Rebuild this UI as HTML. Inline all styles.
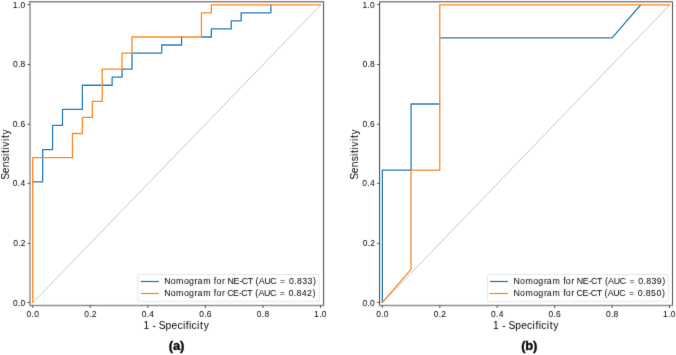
<!DOCTYPE html><html><head><meta charset="utf-8"><style>html,body{margin:0;padding:0;background:#fff;width:676px;height:355px;overflow:hidden}svg{display:block}</style></head><body>
<svg width="676" height="355" viewBox="0 0 676 355" font-family="'Liberation Sans', sans-serif">
<defs><filter id="bl" x="0" y="0" width="676" height="355" filterUnits="userSpaceOnUse" color-interpolation-filters="sRGB"><feConvolveMatrix order="3" kernelMatrix="0.015 0.07 0.015 0.07 0.66 0.07 0.015 0.07 0.015" divisor="1" edgeMode="none" preserveAlpha="false"/></filter><filter id="bl2" x="0" y="0" width="676" height="355" filterUnits="userSpaceOnUse" color-interpolation-filters="sRGB"><feConvolveMatrix order="3" kernelMatrix="0 0.03 0 0.03 0.88 0.03 0 0.03 0" divisor="1" edgeMode="none" preserveAlpha="false"/></filter></defs>
<rect width="676" height="355" fill="#fff"/>
<g filter="url(#bl2)">
<line x1="32.75" y1="302.85" x2="320.5" y2="5.2" stroke="#c4c4c4" stroke-width="0.9"/>
<path d="M32.75 181.78 L42.67 181.78 L42.67 149.6 L52.59 149.6 L52.59 125.47 L62.52 125.47 L62.52 109.38 L82.36 109.38 L82.36 85.25 L112.13 85.25 L112.13 77.2 L122.05 77.2 L122.05 69.16 L131.97 69.16 L131.97 53.07 L161.74 53.07 L161.74 45.02 L181.59 45.02 L181.59 36.98" fill="none" stroke="#2a7fbc" stroke-width="1.3" stroke-linejoin="round" stroke-linecap="square"/>
<path d="M201.43 36.98 L211.35 36.98 L211.35 28.93 L231.2 28.93 L231.2 20.89 L241.12 20.89 L241.12 12.84 L270.89 12.84 L270.89 4.8" fill="none" stroke="#2a7fbc" stroke-width="1.3" stroke-linejoin="round" stroke-linecap="square"/>
<path d="M32.75 302.45 L32.75 157.65 L72.44 157.65 L72.44 133.51 L82.36 133.51 L82.36 117.42 L92.28 117.42 L92.28 101.34 L102.21 101.34 L102.21 69.16 L122.05 69.16 L122.05 53.07 L131.97 53.07 L131.97 36.98 L201.43 36.98 L201.43 12.84 L211.35 12.84 L211.35 4.8 L320.5 4.8" fill="none" stroke="#ff8a24" stroke-width="1.3" stroke-linejoin="round" stroke-linecap="square"/>
<line x1="382.35" y1="302.85" x2="669.5" y2="5.2" stroke="#c4c4c4" stroke-width="0.9"/>
<path d="M382.35 302.45 L382.35 170.16 L411.06 170.16 L411.06 104.02 L439.78 104.02" fill="none" stroke="#2a7fbc" stroke-width="1.3" stroke-linejoin="round" stroke-linecap="square"/>
<path d="M439.78 37.87 L612.07 37.87 L640.79 4.8" fill="none" stroke="#2a7fbc" stroke-width="1.3" stroke-linejoin="round" stroke-linecap="butt"/>
<path d="M382.35 302.45 L411.06 269.38 L411.06 170.16 L439.78 170.16 L439.78 4.8 L669.5 4.8" fill="none" stroke="#ff8a24" stroke-width="1.3" stroke-linejoin="round" stroke-linecap="square"/>
<line x1="140.8" y1="281.5" x2="158.8" y2="281.5" stroke="#2a7fbc" stroke-width="1.3"/>
<line x1="140.8" y1="293.5" x2="158.8" y2="293.5" stroke="#ff8a24" stroke-width="1.3"/>
<line x1="489.9" y1="281.5" x2="508" y2="281.5" stroke="#2a7fbc" stroke-width="1.3"/>
<line x1="489.9" y1="293.5" x2="508" y2="293.5" stroke="#ff8a24" stroke-width="1.3"/>
</g>
<g filter="url(#bl)">
<rect x="137.7" y="274.5" width="181.6" height="26.8" rx="1" fill="none" stroke="#d6d6d6" stroke-width="0.6"/>
<text x="164.31 170.71 176.11 183.92 189.06 194.61 197.42 203.14 210.95 213.85 216.53 221.93 225.05 227.53 233.49 239.13 241.78 247.77 253.1 255.59 258.81 264.46 270.37 276.61 280.08 286.24 288.98 294.19 296.93 302.24 307.54 313.02" y="284.15" font-size="8.83" fill="#000">Nomogram for NE-CT (AUC = 0.833)</text>
<text x="164.31 170.71 176.11 183.92 189.06 194.61 197.42 203.14 210.95 213.85 216.53 221.93 225.05 227.27 233.08 238.71 241.36 247.35 252.69 255.17 258.39 264.05 269.96 276.2 279.66 285.83 288.57 293.77 296.52 301.82 307.01 312.6" y="296.2" font-size="8.83" fill="#000">Nomogram for CE-CT (AUC = 0.842)</text>
<line x1="30" y1="1" x2="30" y2="306.25" stroke="#858585" stroke-width="1.32"/>
<line x1="323.55" y1="1" x2="323.55" y2="306.25" stroke="#575757" stroke-width="1.1"/>
<line x1="29.34" y1="1.71" x2="324.1" y2="1.71" stroke="#828282" stroke-width="1.42"/>
<line x1="29.34" y1="305.5" x2="324.1" y2="305.5" stroke="#8e8e8e" stroke-width="1.5"/>
<line x1="32.75" y1="305.45" x2="32.75" y2="308.05" stroke="#000" stroke-width="0.64"/>
<line x1="30" y1="302.5" x2="27.4" y2="302.5" stroke="#000" stroke-width="0.64"/>
<text x="26.58 31.57 34.21" y="316.7" font-size="8.48" fill="#000">0.0</text>
<text x="12.89 17.89 20.53" y="305.55" font-size="8.48" fill="#000">0.0</text>
<line x1="90.3" y1="305.45" x2="90.3" y2="308.05" stroke="#000" stroke-width="0.64"/>
<line x1="30" y1="243.4" x2="27.4" y2="243.4" stroke="#000" stroke-width="0.64"/>
<text x="84.26 89.26 91.79" y="316.7" font-size="8.48" fill="#000">0.2</text>
<text x="13.16 18.16 20.69" y="246.02" font-size="8.48" fill="#000">0.2</text>
<line x1="147.85" y1="305.45" x2="147.85" y2="308.05" stroke="#000" stroke-width="0.64"/>
<line x1="30" y1="183.4" x2="27.4" y2="183.4" stroke="#000" stroke-width="0.64"/>
<text x="141.64 146.63 149.27" y="316.7" font-size="8.48" fill="#000">0.4</text>
<text x="12.81 17.81 20.44" y="186.49" font-size="8.48" fill="#000">0.4</text>
<line x1="205.4" y1="305.45" x2="205.4" y2="308.05" stroke="#000" stroke-width="0.64"/>
<line x1="30" y1="124.3" x2="27.4" y2="124.3" stroke="#000" stroke-width="0.64"/>
<text x="199.21 204.21 206.85" y="316.7" font-size="8.48" fill="#000">0.6</text>
<text x="12.87 17.86 20.5" y="126.96" font-size="8.48" fill="#000">0.6</text>
<line x1="262.95" y1="305.45" x2="262.95" y2="308.05" stroke="#000" stroke-width="0.64"/>
<line x1="30" y1="64.5" x2="27.4" y2="64.5" stroke="#000" stroke-width="0.64"/>
<text x="256.78 261.78 264.42" y="316.7" font-size="8.48" fill="#000">0.8</text>
<text x="12.91 17.9 20.54" y="67.43" font-size="8.48" fill="#000">0.8</text>
<line x1="320.5" y1="305.45" x2="320.5" y2="308.05" stroke="#000" stroke-width="0.64"/>
<line x1="30" y1="4.6" x2="27.4" y2="4.6" stroke="#000" stroke-width="0.64"/>
<text x="314.11 319.14 321.78" y="316.7" font-size="8.48" fill="#000">1.0</text>
<text x="12.85 17.89 20.53" y="7.9" font-size="8.48" fill="#000">1.0</text>
<text x="143.47 149.58 152.59 156.17 158.84 165.57 171.59 177.4 182.96 185.85 189.07 191.54 197.1 200.03 203.68" y="329" font-size="10.28" fill="#000">1 - Specificity</text>
<text x="-179.82 -173.22 -167.16 -161.23 -155.99 -153.06 -149.49 -146.7 -141.05 -138.12 -134.47" y="8.75" font-size="10.28" fill="#000" transform="rotate(-90)">Sensitivity</text>
<text x="168.86 172.92 179.91" y="350" font-size="13" font-weight="bold" fill="#000" stroke="#000" stroke-width="0.3">(a)</text>
<rect x="487.4" y="274.5" width="181.1" height="26.8" rx="1" fill="none" stroke="#d6d6d6" stroke-width="0.6"/>
<text x="513.61 520.01 525.41 533.22 538.36 543.91 546.72 552.44 560.25 563.15 565.83 571.23 574.35 576.83 582.79 588.43 591.08 597.07 602.4 604.89 608.11 613.76 619.67 625.91 629.38 635.54 638.28 643.49 646.23 651.54 656.81 662.32" y="284.15" font-size="8.83" fill="#000">Nomogram for NE-CT (AUC = 0.839)</text>
<text x="513.61 520.01 525.41 533.22 538.36 543.91 546.72 552.44 560.25 563.15 565.83 571.23 574.35 576.57 582.38 588.01 590.66 596.65 601.99 604.47 607.69 613.35 619.26 625.5 628.96 635.13 637.87 643.07 645.82 651.09 656.42 661.9" y="296.2" font-size="8.83" fill="#000">Nomogram for CE-CT (AUC = 0.850)</text>
<line x1="379.55" y1="1" x2="379.55" y2="306.25" stroke="#4e4e4e" stroke-width="1.09"/>
<line x1="672.52" y1="1" x2="672.52" y2="306.25" stroke="#565656" stroke-width="1.05"/>
<line x1="379" y1="1.71" x2="673.04" y2="1.71" stroke="#828282" stroke-width="1.42"/>
<line x1="379" y1="305.5" x2="673.04" y2="305.5" stroke="#8e8e8e" stroke-width="1.5"/>
<line x1="382.35" y1="305.45" x2="382.35" y2="308.05" stroke="#000" stroke-width="0.64"/>
<line x1="379.55" y1="302.5" x2="376.95" y2="302.5" stroke="#000" stroke-width="0.64"/>
<text x="376.18 381.17 383.81" y="316.7" font-size="8.48" fill="#000">0.0</text>
<text x="362.44 367.44 370.08" y="305.55" font-size="8.48" fill="#000">0.0</text>
<line x1="439.78" y1="305.45" x2="439.78" y2="308.05" stroke="#000" stroke-width="0.64"/>
<line x1="379.55" y1="243.4" x2="376.95" y2="243.4" stroke="#000" stroke-width="0.64"/>
<text x="433.74 438.74 441.27" y="316.7" font-size="8.48" fill="#000">0.2</text>
<text x="362.71 367.71 370.24" y="246.02" font-size="8.48" fill="#000">0.2</text>
<line x1="497.21" y1="305.45" x2="497.21" y2="308.05" stroke="#000" stroke-width="0.64"/>
<line x1="379.55" y1="183.4" x2="376.95" y2="183.4" stroke="#000" stroke-width="0.64"/>
<text x="491 495.99 498.63" y="316.7" font-size="8.48" fill="#000">0.4</text>
<text x="362.36 367.36 369.99" y="186.49" font-size="8.48" fill="#000">0.4</text>
<line x1="554.64" y1="305.45" x2="554.64" y2="308.05" stroke="#000" stroke-width="0.64"/>
<line x1="379.55" y1="124.3" x2="376.95" y2="124.3" stroke="#000" stroke-width="0.64"/>
<text x="548.45 553.45 556.09" y="316.7" font-size="8.48" fill="#000">0.6</text>
<text x="362.42 367.41 370.05" y="126.96" font-size="8.48" fill="#000">0.6</text>
<line x1="612.07" y1="305.45" x2="612.07" y2="308.05" stroke="#000" stroke-width="0.64"/>
<line x1="379.55" y1="64.5" x2="376.95" y2="64.5" stroke="#000" stroke-width="0.64"/>
<text x="605.9 610.9 613.54" y="316.7" font-size="8.48" fill="#000">0.8</text>
<text x="362.46 367.45 370.09" y="67.43" font-size="8.48" fill="#000">0.8</text>
<line x1="669.5" y1="305.45" x2="669.5" y2="308.05" stroke="#000" stroke-width="0.64"/>
<line x1="379.55" y1="4.6" x2="376.95" y2="4.6" stroke="#000" stroke-width="0.64"/>
<text x="663.11 668.14 670.78" y="316.7" font-size="8.48" fill="#000">1.0</text>
<text x="362.4 367.44 370.08" y="7.9" font-size="8.48" fill="#000">1.0</text>
<text x="493.07 499.18 502.19 505.77 508.44 515.17 521.19 527 532.56 535.45 538.67 541.14 546.7 549.63 553.28" y="329" font-size="10.28" fill="#000">1 - Specificity</text>
<text x="-179.82 -173.22 -167.16 -161.23 -155.99 -153.06 -149.49 -146.7 -141.05 -138.12 -134.47" y="358.2" font-size="10.28" fill="#000" transform="rotate(-90)">Sensitivity</text>
<text x="521.27 525.32 533" y="350" font-size="13" font-weight="bold" fill="#000" stroke="#000" stroke-width="0.3">(b)</text>
</g>
</svg></body></html>
